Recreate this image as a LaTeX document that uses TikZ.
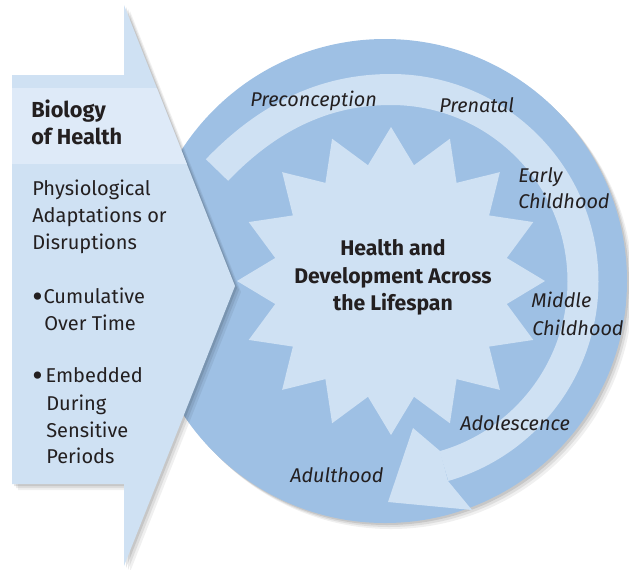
\documentclass[tikz,border=0pt]{standalone}
\usepackage{fontspec}
\setmainfont{Fira Sans}
\usepackage{tikz}
\usepackage{xcolor}
\usetikzlibrary{shapes.geometric}

\definecolor{ringblue}{RGB}{158,192,228}
\definecolor{paleblue}{RGB}{207,225,243}
\definecolor{headblue}{RGB}{222,234,248}
\definecolor{inkgray}{RGB}{35,31,32}

\newcommand{\bigdot}[1]{\makebox[#1][l]{\raisebox{-3.2pt}{\fontsize{24}{24}\selectfont\textbullet}}}

\tikzset{
  softshadow/.style={
    preaction={fill=black,opacity=0.10,transform canvas={xshift=1.5pt,yshift=-1.5pt}},
    preaction={fill=black,opacity=0.08,transform canvas={xshift=3pt,yshift=-3pt}},
    preaction={fill=black,opacity=0.06,transform canvas={xshift=4.5pt,yshift=-4.5pt}}},
  stage/.style={anchor=base west,inner sep=0.75pt,text=inkgray,font=\fontsize{14.9}{17}\selectfont\itshape},
  bodytext/.style={anchor=base west,inner sep=0.75pt,text=inkgray,font=\fontsize{15}{17}\selectfont},
  headtext/.style={anchor=base west,inner sep=0.75pt,text=inkgray,font=\fontsize{16.3}{20}\selectfont\bfseries},
  centertext/.style={anchor=base,inner sep=0.75pt,text=inkgray,font=\fontsize{15.9}{20}\selectfont\bfseries}
}

\begin{document}
\begin{tikzpicture}[x=0.75pt,y=0.75pt,yscale=-1,xscale=1]
\useasboundingbox (0,0) rectangle (629,569);

%Shape: Circle [lifespan disc]
\fill [ringblue, softshadow] (385,281) circle [radius=242] ;
%Curve Arrow [stages ring]
\coordinate (bandstart) at (217,170) ;
\coordinate (bandtop) at (391,89.5) ;
\draw [paleblue, line width=23.25pt] (bandstart) .. controls (265,120) and (321,89.5) .. (bandtop) arc [start angle=-90, end angle=74, radius=192] ;
\coordinate (headin) at (440,451) ;
\coordinate (headout) at (448,481) ;
\fill [paleblue] (headin) -- (413,428) -- (388,502) -- (472,510) -- (headout) -- cycle ;
%Shape: Star [id:lifestar]
\node [star, star points=16, star point ratio=1.305, minimum size=231pt, inner sep=0pt, fill=paleblue] (lifestar) at (391,281) {} ;

% Text Node
\node [centertext] (health) at (393,255) {Health and} ;
\node [centertext] (develop) at (393,283) {Development Across} ;
\node [centertext] (lifespan) at (393,310) {the Lifespan} ;

% Text Node
\node [stage] (precon) at (249,106) {Preconception} ;
\node [stage] (prenatal) at (438,112) {Prenatal} ;
\node [stage] (early) at (517,182) {Early} ;
\node [stage] (earlyb) at (517,208) {Childhood} ;
\node [stage] (middle) at (530,307) {Middle} ;
\node [stage] (middleb) at (531,335) {Childhood} ;
\node [stage] (adolesc) at (459,430) {Adolescence} ;
\node [stage] (adult) at (289,482) {Adulthood} ;

%Shape: Arrow [biology box]
\coordinate (b1) at (12,75) ;
\coordinate (b2) at (124,75) ;
\coordinate (b3) at (124,5) ;
\coordinate (b4) at (235,286) ;
\coordinate (b5) at (124,566) ;
\coordinate (b6) at (124,484) ;
\coordinate (b7) at (12,484) ;
\fill [paleblue, softshadow] (b1) -- (b2) -- (b3) -- (b4) -- (b5) -- (b6) -- (b7) -- cycle ;
\begin{scope}
\clip (b1) -- (b2) -- (b3) -- (b4) -- (b5) -- (b6) -- (b7) -- cycle ;
\fill [headblue] (12,88) rectangle (240,164) ;
\end{scope}

% Text Node
\node [headtext] (biology) at (30,117) {Biology} ;
\node [headtext] (ofhealth) at (30,144) {of Health} ;
\node [bodytext] (physio) at (31,195) {Physiological} ;
\node [bodytext] (adapt) at (31,222) {Adaptations or} ;
\node [bodytext] (disrupt) at (31,249) {Disruptions} ;
\node [bodytext] (cumul) at (31,303) {\bigdot{8.5pt}Cumulative} ;
\node [bodytext] (overtime) at (43,330) {Over Time} ;
\node [bodytext] (embed) at (31,382) {\bigdot{10pt}Embedded} ;
\node [bodytext] (during) at (45,410) {During} ;
\node [bodytext] (sensit) at (45,437) {Sensitive} ;
\node [bodytext] (periods) at (45,463) {Periods} ;
\end{tikzpicture}
\end{document}
